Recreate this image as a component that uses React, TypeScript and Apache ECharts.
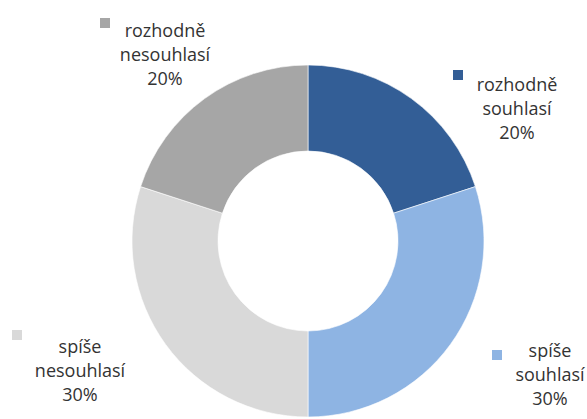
import React, { useEffect, useRef } from "react";
import * as echarts from "echarts";

const categories = ["rozhodně souhlasí", "spíše souhlasí", "spíše nesouhlasí", "rozhodně nesouhlasí"];
const labelNames = ["rozhodně\nsouhlasí", "spíše\nsouhlasí", "spíše\nnesouhlasí", "rozhodně\nnesouhlasí"];
const values = [20, 30, 30, 20];
const colors = ["#335E96", "#8EB4E3", "#D9D9D9", "#A6A6A6"];

// label layout (center x, middle-line center y) and legend square positions
const labelPos = [
  [517, 108],
  [550, 374],
  [80, 370],
  [165, 54],
];
const squarePos = [
  [453, 70],
  [492, 350],
  [12, 330],
  [100, 18],
];

export default function App() {
  const ref = useRef<HTMLDivElement>(null);
  useEffect(() => {
    document.body.style.margin = "0";
    const chart = echarts.init(ref.current!, null, { renderer: "svg" });
    const total = values.reduce((a, b) => a + b, 0);
    chart.setOption({
      animation: false,
      backgroundColor: "#ffffff",
      series: [
        {
          type: "pie",
          center: [308, 241],
          radius: [90, 176],
          startAngle: 90,
          clockwise: true,
          data: categories.map((c, i) => ({
            name: c,
            value: values[i],
            itemStyle: { color: colors[i] },
          })),
          itemStyle: { borderColor: "rgba(255,255,255,0.6)", borderWidth: 1 },
          label: {
            show: true,
            position: "outside",
            formatter: (p: any) =>
              labelNames[p.dataIndex] + "\n" + Math.round((values[p.dataIndex] / total) * 100) + "%",
            fontFamily: "Open Sans",
            fontSize: 18,
            lineHeight: 24,
            color: "#333333",
            align: "center",
          },
          labelLine: { show: false },
          labelLayout: (params: any) => ({
            x: labelPos[params.dataIndex][0],
            y: labelPos[params.dataIndex][1],
            align: "center",
            verticalAlign: "middle",
          }),
          emphasis: { disabled: true },
        },
      ],
      graphic: squarePos.map((p, i) => ({
        type: "rect",
        shape: { x: p[0], y: p[1], width: 10, height: 10 },
        style: { fill: colors[i] },
      })),
    });
    return () => chart.dispose();
  }, []);
  return <div ref={ref} style={{ position: "absolute", left: 0, top: 0, width: 587, height: 419 }} />;
}
